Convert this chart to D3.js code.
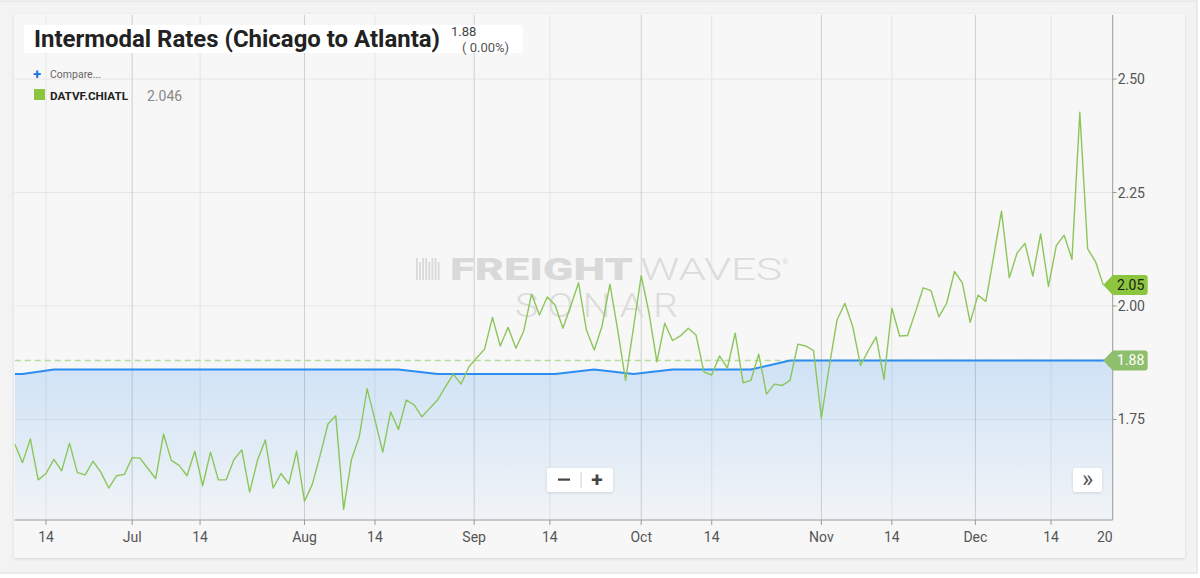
<!DOCTYPE html>
<html>
<head>
<meta charset="utf-8">
<script src="https://cdn.jsdelivr.net/npm/d3@7"></script>
<style>
  html, body { margin: 0; padding: 0; background: #ffffff; }
  svg { display: block; font-family: Roboto, "Noto Sans", sans-serif; }
</style>
</head>
<body>
<div id="chart"></div>
<script>
// Intermodal rates, Chicago to Atlanta (FreightWaves SONAR view)

// trading days: weekdays from the start date, minus these holidays
const startDate = "2019-06-10";
const holidays = ["2019-07-04", "2019-11-28", "2019-12-25"];

// DATVF.CHIATL daily values (green line)
const rateValues = [
  1.696, 1.655, 1.707, 1.617, 1.631, 1.662, 1.637, 1.698, 1.633, 1.628,
  1.658, 1.634, 1.599, 1.626, 1.629, 1.666, 1.665, 1.642, 1.620, 1.718,
  1.660, 1.649, 1.626, 1.680, 1.604, 1.678, 1.617, 1.617, 1.662, 1.683,
  1.590, 1.660, 1.705, 1.599, 1.631, 1.608, 1.680, 1.570, 1.607, 1.671,
  1.740, 1.758, 1.552, 1.662, 1.712, 1.818, 1.749, 1.678, 1.767, 1.728,
  1.793, 1.782, 1.756, 1.775, 1.793, 1.822, 1.850, 1.828, 1.866, 1.886,
  1.905, 1.975, 1.912, 1.953, 1.907, 1.945, 2.026, 1.980, 2.020, 2.002,
  1.951, 2.000, 2.051, 1.947, 1.903, 1.956, 2.048, 1.947, 1.836, 1.951,
  2.067, 1.984, 1.877, 1.962, 1.924, 1.934, 1.951, 1.936, 1.855, 1.848,
  1.890, 1.863, 1.940, 1.831, 1.836, 1.894, 1.806, 1.828, 1.825, 1.836,
  1.916, 1.912, 1.902, 1.753, 1.866, 1.969, 2.006, 1.955, 1.869, 1.902,
  1.932, 1.838, 1.995, 1.934, 1.935, 1.986, 2.040, 2.034, 1.976, 2.006,
  2.076, 2.051, 1.964, 2.024, 2.010, 2.109, 2.209, 2.062, 2.117, 2.138,
  2.066, 2.159, 2.043, 2.133, 2.156, 2.103, 2.427, 2.126, 2.098, 2.046
];

// main series (blue area), weekly change points
const baseDates = [
  "2019-06-10", "2019-06-11", "2019-06-17", "2019-08-19", "2019-08-26", "2019-09-16",
  "2019-09-23", "2019-09-30", "2019-10-07", "2019-10-21", "2019-10-28", "2019-12-31"
];
const baseValues = [1.85, 1.85, 1.86, 1.86, 1.85, 1.85, 1.86, 1.85, 1.86, 1.86, 1.88, 1.88];
const lastClose = 1.88;

// axis ticks
const tickDates = [
  "2019-06-14", "2019-07-01", "2019-07-14", "2019-08-01", "2019-08-14", "2019-09-01", "2019-09-14",
  "2019-10-01", "2019-10-14", "2019-11-01", "2019-11-14", "2019-12-01", "2019-12-14", "2020-01-01"
];
const tickLabels = ["14", "Jul", "14", "Aug", "14", "Sep", "14", "Oct", "14", "Nov", "14", "Dec", "14", "2020"];
const yTicks = [1.75, 2.00, 2.25, 2.50];

const W = 1200, H = 578;
const plot = { left: 14.7, right: 1112.7, top: 15, bottom: 520 };

const parse = d3.utcParse("%Y-%m-%d");
const holidaySet = new Set(holidays);
const fmtDay = d3.utcFormat("%Y-%m-%d");

// build the trading day list, one per value
const dates = [];
for (let d = parse(startDate); dates.length < rateValues.length; d = d3.utcDay.offset(d, 1)) {
    const wd = d.getUTCDay();
    if (wd === 0 || wd === 6 || holidaySet.has(fmtDay(d))) continue;
    dates.push(d);
}

const xOverscroll = 1.2;
const xEnd = rateValues.length - 1 + xOverscroll;

// ordinal position of any date (weekends interpolate between trading days)
function datePos(s) {
    const t = parse(s);
    const k = d3.bisector(d => d).left(dates, t);
    if (k >= dates.length) return xEnd;
    if (k === 0 || +dates[k] === +t) return k;
    const a = dates[k - 1], b = dates[k];
    return k - 1 + (t - a) / (b - a);
}

const x = d3.scaleLinear().domain([0, xEnd]).range([plot.left, plot.right]);
const y = d3.scaleLinear().domain([1.5286, 2.641]).range([plot.bottom, plot.top]);

const svg = d3.select("#chart").append("svg")
    .attr("width", W)
    .attr("height", H)
    .attr("viewBox", `0 0 ${W} ${H}`);

const defs = svg.append("defs");

const shadow = defs.append("filter").attr("id", "shadow")
    .attr("x", "-5%").attr("y", "-5%").attr("width", "110%").attr("height", "115%");
shadow.append("feDropShadow")
    .attr("dx", 0).attr("dy", 1).attr("stdDeviation", 1.5)
    .attr("flood-color", "#000").attr("flood-opacity", 0.13);

const grad = defs.append("linearGradient").attr("id", "areaGrad")
    .attr("x1", 0).attr("y1", 0).attr("x2", 0).attr("y2", 1);
grad.append("stop").attr("offset", "0%").attr("stop-color", "#2d8ef0").attr("stop-opacity", 0.2);
grad.append("stop").attr("offset", "100%").attr("stop-color", "#2d8ef0").attr("stop-opacity", 0.03);

defs.append("clipPath").attr("id", "plotClip")
    .append("rect")
    .attr("x", plot.left).attr("y", plot.top)
    .attr("width", plot.right - plot.left).attr("height", plot.bottom - plot.top);

defs.append("clipPath").attr("id", "labelClip")
    .append("rect")
    .attr("x", 0).attr("y", 0)
    .attr("width", plot.right).attr("height", H);

// page frame and card
svg.append("rect")
    .attr("x", -1).attr("y", 1)
    .attr("width", 1198).attr("height", 572)
    .attr("fill", "#f3f3f3")
    .attr("stroke", "#dcdcdc");

svg.append("rect")
    .attr("x", 14).attr("y", 14)
    .attr("width", 1171).attr("height", 544)
    .attr("fill", "#f7f7f7")
    .attr("filter", "url(#shadow)");

// grid
svg.append("g")
    .selectAll("line")
    .data(yTicks)
    .join("line")
    .attr("x1", plot.left)
    .attr("x2", plot.right)
    .attr("y1", d => y(d))
    .attr("y2", d => y(d))
    .attr("stroke", "#e6e6e6");

svg.append("g")
    .selectAll("line")
    .data(tickDates.slice(0, -1))
    .join("line")
    .attr("x1", d => x(datePos(d)))
    .attr("x2", d => x(datePos(d)))
    .attr("y1", plot.top)
    .attr("y2", plot.bottom)
    .attr("stroke", (d, i) => tickLabels[i] === "14" ? "#e4e4e4" : "#cfcfcf");

// watermark
const wm = svg.append("g").attr("fill", "#d9d9d9");
d3.range(8).forEach(k => {
    wm.append("rect")
        .attr("x", 416 + k * 3.1)
        .attr("y", k % 3 === 1 ? 262 : 258)
        .attr("width", 1.8)
        .attr("height", k % 3 === 1 ? 18 : 22);
});
wm.append("text")
    .attr("x", 450).attr("y", 280)
    .attr("font-size", 31).attr("font-weight", 900)
    .attr("textLength", 183).attr("lengthAdjust", "spacingAndGlyphs")
    .text("FREIGHT");
wm.append("text")
    .attr("x", 640).attr("y", 280)
    .attr("font-size", 31).attr("font-weight", 300)
    .attr("fill", "#dcdcdc")
    .attr("textLength", 142).attr("lengthAdjust", "spacingAndGlyphs")
    .text("WAVES");
wm.append("text")
    .attr("x", 782).attr("y", 264)
    .attr("font-size", 8)
    .text("®");
wm.append("text")
    .attr("x", 515).attr("y", 317)
    .attr("font-size", 34).attr("font-weight", 300)
    .attr("fill", "#dcdcdc")
    .attr("letter-spacing", 8)
    .attr("textLength", 172).attr("lengthAdjust", "spacingAndGlyphs")
    .text("SONAR");

// main series area + line
const base = baseDates.map((d, i) => ({ p: datePos(d), v: baseValues[i] }));

const plotG = svg.append("g").attr("clip-path", "url(#plotClip)");

plotG.append("path")
    .datum(base)
    .attr("d", d3.area().x(d => x(d.p)).y0(plot.bottom).y1(d => y(d.v)))
    .attr("fill", "url(#areaGrad)");

plotG.append("line")
    .attr("x1", plot.left)
    .attr("x2", plot.right)
    .attr("y1", y(lastClose))
    .attr("y2", y(lastClose))
    .attr("stroke", "#b8dc9c")
    .attr("stroke-width", 1.5)
    .attr("stroke-dasharray", "6,4");

plotG.append("path")
    .datum(base)
    .attr("d", d3.line().x(d => x(d.p)).y(d => y(d.v)))
    .attr("fill", "none")
    .attr("stroke", "#2b8cf2")
    .attr("stroke-width", 2);

// compare series
plotG.append("path")
    .datum(rateValues)
    .attr("d", d3.line().x((d, i) => x(i)).y(d => y(d)))
    .attr("fill", "none")
    .attr("stroke", "#8cc65a")
    .attr("stroke-width", 1.4)
    .attr("stroke-linejoin", "round");

// bottom axis
svg.append("line")
    .attr("x1", plot.left).attr("x2", plot.right)
    .attr("y1", plot.bottom).attr("y2", plot.bottom)
    .attr("stroke", "#9a9a9a");

svg.append("g")
    .selectAll("line")
    .data(tickDates.slice(0, -1))
    .join("line")
    .attr("x1", d => x(datePos(d)))
    .attr("x2", d => x(datePos(d)))
    .attr("y1", plot.bottom)
    .attr("y2", plot.bottom + 5)
    .attr("stroke", "#9a9a9a");

svg.append("g")
    .attr("clip-path", "url(#labelClip)")
    .selectAll("text")
    .data(tickDates)
    .join("text")
    .attr("x", d => x(datePos(d)))
    .attr("y", 542)
    .attr("text-anchor", "middle")
    .attr("font-size", 14)
    .attr("fill", "#555")
    .text((d, i) => tickLabels[i]);

// right axis
svg.append("line")
    .attr("x1", plot.right).attr("x2", plot.right)
    .attr("y1", plot.top).attr("y2", plot.bottom)
    .attr("stroke", "#9a9a9a");

const yAxis = svg.append("g");
yAxis.selectAll("line")
    .data(yTicks)
    .join("line")
    .attr("x1", plot.right).attr("x2", plot.right + 4)
    .attr("y1", d => y(d)).attr("y2", d => y(d))
    .attr("stroke", "#9a9a9a");
yAxis.selectAll("text")
    .data(yTicks)
    .join("text")
    .attr("x", plot.right + 5)
    .attr("y", d => y(d) + 5)
    .attr("font-size", 14)
    .attr("fill", "#555")
    .text(d => d.toFixed(2));

// last value flags
function flag(value, fill, color) {
    const tip = x(rateValues.length - 1);
    const yc = y(value);
    const g = svg.append("g");
    g.append("path")
        .attr("d", `M${tip},${yc} L${plot.right},${yc - 10} L${plot.right + 32},${yc - 10}
            Q${plot.right + 35},${yc - 10} ${plot.right + 35},${yc - 7} L${plot.right + 35},${yc + 7}
            Q${plot.right + 35},${yc + 10} ${plot.right + 32},${yc + 10} L${plot.right},${yc + 10} Z`)
        .attr("fill", fill);
    g.append("text")
        .attr("x", plot.right + 18)
        .attr("y", yc + 5)
        .attr("text-anchor", "middle")
        .attr("font-size", 14)
        .attr("fill", color)
        .text(value.toFixed(2));
}
flag(lastClose, "#8fbe6c", "#ffffff");
flag(rateValues[rateValues.length - 1], "#8cc63f", "#1a1a1a");

// navigator buttons
function button(x0, w) {
    return svg.append("rect")
        .attr("x", x0).attr("y", 468)
        .attr("width", w).attr("height", 24)
        .attr("rx", 3)
        .attr("fill", "#ffffff")
        .attr("filter", "url(#shadow)");
}
button(547, 66);
svg.append("line")
    .attr("x1", 581).attr("x2", 581)
    .attr("y1", 472).attr("y2", 488)
    .attr("stroke", "#d0d0d0");
svg.append("rect")
    .attr("x", 558).attr("y", 478.5)
    .attr("width", 12).attr("height", 2.2)
    .attr("fill", "#444");
svg.append("text")
    .attr("x", 597).attr("y", 487)
    .attr("text-anchor", "middle")
    .attr("font-size", 21).attr("font-weight", 700)
    .attr("fill", "#444")
    .text("+");

button(1073, 29);
svg.append("text")
    .attr("x", 1087.5).attr("y", 487)
    .attr("text-anchor", "middle")
    .attr("font-size", 24)
    .attr("fill", "#555")
    .text("»");

// title block
svg.append("rect")
    .attr("x", 24).attr("y", 25)
    .attr("width", 499).attr("height", 28)
    .attr("fill", "#ffffff");

svg.append("text")
    .attr("x", 34).attr("y", 47)
    .attr("font-size", 24.5).attr("font-weight", 700)
    .attr("fill", "#222")
    .attr("textLength", 406).attr("lengthAdjust", "spacingAndGlyphs")
    .text("Intermodal Rates (Chicago to Atlanta)");

svg.append("text")
    .attr("x", 451).attr("y", 36)
    .attr("font-size", 13)
    .attr("fill", "#444")
    .text(lastClose.toFixed(2));

svg.append("text")
    .attr("x", 462).attr("y", 52)
    .attr("font-size", 13)
    .attr("fill", "#555")
    .text("( 0.00%)");

// legend
svg.append("text")
    .attr("x", 33).attr("y", 79)
    .attr("font-size", 15).attr("font-weight", 700)
    .attr("fill", "#1a73e8")
    .text("+");
svg.append("text")
    .attr("x", 50).attr("y", 78)
    .attr("font-size", 10.5)
    .attr("fill", "#666")
    .text("Compare...");

svg.append("rect")
    .attr("x", 34).attr("y", 89)
    .attr("width", 11).attr("height", 11)
    .attr("fill", "#8cc63f");
svg.append("text")
    .attr("x", 50).attr("y", 100)
    .attr("font-size", 11.5).attr("font-weight", 700)
    .attr("fill", "#222")
    .attr("textLength", 78).attr("lengthAdjust", "spacingAndGlyphs")
    .text("DATVF.CHIATL");
svg.append("text")
    .attr("x", 147).attr("y", 101)
    .attr("font-size", 14)
    .attr("fill", "#888")
    .text(rateValues[rateValues.length - 1].toFixed(3));
</script>
</body>
</html>
